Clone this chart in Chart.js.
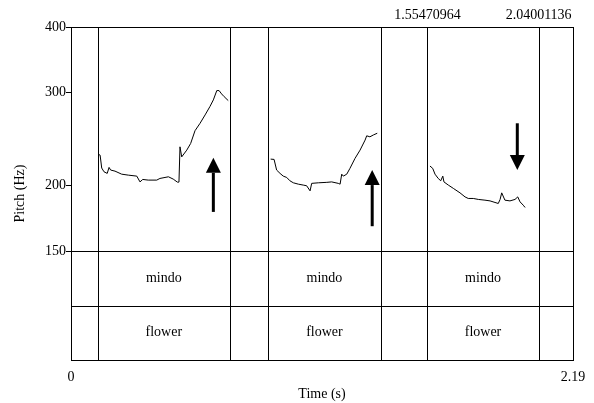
<!DOCTYPE html>
<html>
<head>
<meta charset="utf-8">
<script src="https://cdn.jsdelivr.net/npm/chart.js@4.4.1/dist/chart.umd.min.js"></script>
<style>
  body { margin: 0; background: #fff; }
  canvas { display: block; }
</style>
</head>
<body>
<canvas id="pitchChart" width="594" height="403"></canvas>
<script>
// pitch contours (time in s, pitch in Hz)
const times1 = [0.119, 0.127, 0.134, 0.144, 0.158, 0.166, 0.173, 0.192, 0.221, 0.250, 0.287, 0.301, 0.313, 0.337, 0.374, 0.388, 0.425, 0.446, 0.464, 0.471, 0.4755, 0.483, 0.505, 0.522, 0.541, 0.563, 0.585, 0.606, 0.621, 0.636, 0.646, 0.657, 0.668, 0.686];
const pitch1 = [229.2, 228.2, 215.7, 212.2, 210.7, 216.3, 213.8, 212.8, 210.0, 209.1, 208.2, 203.0, 205.2, 204.6, 204.6, 206.1, 207.6, 205.5, 202.8, 202.8, 236.7, 226.5, 233.3, 240.2, 254.0, 262.4, 272.2, 282.3, 290.7, 302.8, 302.8, 298.4, 294.9, 289.8];

const times2 = [0.871, 0.886, 0.897, 0.912, 0.926, 0.941, 0.955, 0.970, 0.992, 1.013, 1.028, 1.043, 1.050, 1.079, 1.116, 1.137, 1.166, 1.174, 1.181, 1.188, 1.203, 1.217, 1.239, 1.261, 1.283, 1.290, 1.304, 1.319, 1.336];
const pitch2 = [224.3, 224.0, 213.8, 210.7, 208.2, 207.0, 204.0, 202.2, 201.0, 200.2, 199.6, 195.2, 201.7, 202.2, 202.6, 203.0, 201.7, 201.0, 210.0, 208.2, 210.0, 215.4, 225.0, 233.3, 243.8, 248.4, 247.3, 249.3, 251.2];

const times3 = [1.566, 1.578, 1.588, 1.602, 1.613, 1.622, 1.627, 1.646, 1.668, 1.697, 1.719, 1.733, 1.755, 1.777, 1.806, 1.828, 1.864, 1.872, 1.879, 1.893, 1.915, 1.937, 1.949, 1.959, 1.973, 1.981];
const pitch3 = [217.6, 215.4, 210.0, 206.1, 204.0, 208.2, 203.0, 200.2, 197.3, 193.5, 190.1, 188.8, 188.8, 188.0, 187.4, 186.8, 184.7, 188.0, 193.5, 187.4, 186.8, 188.0, 190.1, 186.0, 183.3, 181.5];

// text grid intervals
const intervalStarts = [0.116, 0.860, 1.55470964];
const intervalEnds = [0.694, 1.351, 2.04001136];
const words = ["mindo", "mindo", "mindo"];
const glosses = ["flower", "flower", "flower"];

// marked times shown above the plot
const markedTimes = [1.55470964, 2.04001136];

// arrows (time, from Hz, to Hz)
const arrowTimes = [0.621, 1.314, 1.947];
const arrowFrom = [178.0, 167.2, 262.4];
const arrowTo = [225.6, 213.8, 213.8];

const pitchTicks = [150, 200, 300, 400];
const timeTicks = [0, 2.19];

const serif = "Liberation Serif";

function toPoints(times, values) {
  return times.map((t, i) => ({ x: t, y: values[i] }));
}

function crisp(v) {
  return Math.round(v) + 0.5;
}

const praatPlugin = {
  id: "praatGarnish",
  afterDatasetsDraw(chart) {
    const { ctx, chartArea, scales } = chart;
    const { left, right, top, bottom } = chartArea;
    const xs = scales.x;
    const tier = scales.tier;

    ctx.save();
    ctx.strokeStyle = "#000";
    ctx.lineWidth = 1;

    // frame and tier separators
    ctx.strokeRect(crisp(left), crisp(top), Math.round(right - left), Math.round(bottom - top));
    [scales.y.getPixelForValue(150), tier.getPixelForValue(1)].forEach((py) => {
      ctx.beginPath();
      ctx.moveTo(left, crisp(py));
      ctx.lineTo(right, crisp(py));
      ctx.stroke();
    });

    // interval boundaries through the whole picture
    intervalStarts.concat(intervalEnds).forEach((t) => {
      const px = crisp(xs.getPixelForValue(t));
      ctx.beginPath();
      ctx.moveTo(px, top);
      ctx.lineTo(px, bottom);
      ctx.stroke();
    });

    // tier texts
    ctx.fillStyle = "#000";
    ctx.font = `14px "${serif}"`;
    ctx.textAlign = "center";
    ctx.textBaseline = "middle";
    [words, glosses].forEach((labels, row) => {
      const cy = (tier.getPixelForValue(row) + tier.getPixelForValue(row + 1)) / 2;
      labels.forEach((label, i) => {
        const cx = (xs.getPixelForValue(intervalStarts[i]) + xs.getPixelForValue(intervalEnds[i])) / 2;
        ctx.fillText(label, cx, cy);
      });
    });

    // marked times on top
    markedTimes.forEach((t) => {
      ctx.fillText(String(t), xs.getPixelForValue(t), top - 12);
    });

    // axis title for pitch, centred on the whole box
    ctx.save();
    ctx.translate(20, (top + bottom) / 2);
    ctx.rotate(-Math.PI / 2);
    ctx.fillText("Pitch (Hz)", 0, 0);
    ctx.restore();

    // arrows
    arrowTimes.forEach((t, i) => {
      const px = xs.getPixelForValue(t);
      const y0 = scales.y.getPixelForValue(arrowFrom[i]);
      const y1 = scales.y.getPixelForValue(arrowTo[i]);
      const dir = y1 < y0 ? -1 : 1;
      const headLen = 15;
      ctx.lineWidth = 3;
      ctx.beginPath();
      ctx.moveTo(px, y0);
      ctx.lineTo(px, y1 - dir * headLen);
      ctx.stroke();
      ctx.beginPath();
      ctx.moveTo(px, y1);
      ctx.lineTo(px - 7.5, y1 - dir * headLen);
      ctx.lineTo(px + 7.5, y1 - dir * headLen);
      ctx.closePath();
      ctx.fill();
    });

    ctx.restore();
  }
};

function contourDataset(times, values) {
  return {
    data: toPoints(times, values),
    xAxisID: "x",
    yAxisID: "y",
    borderColor: "#000",
    borderWidth: 1,
    pointRadius: 0,
    tension: 0,
    fill: false
  };
}

new Chart(document.getElementById("pitchChart"), {
  type: "line",
  data: {
    datasets: [
      contourDataset(times1, pitch1),
      contourDataset(times2, pitch2),
      contourDataset(times3, pitch3)
    ]
  },
  options: {
    responsive: false,
    animation: false,
    devicePixelRatio: 1,
    layout: { padding: { top: 27, right: 21, left: 0, bottom: 0 } },
    plugins: {
      legend: { display: false },
      tooltip: { enabled: false }
    },
    scales: {
      x: {
        type: "linear",
        min: 0,
        max: 2.19,
        afterBuildTicks: (scale) => {
          scale.ticks = timeTicks.map((v) => ({ value: v }));
        },
        afterFit: (scale) => {
          scale.height = 43;
        },
        grid: { display: false },
        border: { display: false },
        ticks: {
          color: "#000",
          font: { family: serif, size: 14 },
          padding: 1,
          maxRotation: 0,
          callback: (v) => (v === 0 ? "0" : v.toFixed(2))
        },
        title: {
          display: true,
          text: "Time (s)",
          color: "#000",
          font: { family: serif, size: 14 },
          padding: { top: 2, bottom: 0 }
        }
      },
      tier: {
        type: "linear",
        position: "left",
        stack: "praat",
        stackWeight: 109,
        min: 0,
        max: 2,
        reverse: true,
        afterBuildTicks: (scale) => {
          scale.ticks = [];
        },
        afterFit: (scale) => {
          scale.width = 71;
        },
        grid: { display: false },
        border: { display: false },
        ticks: { display: false }
      },
      y: {
        type: "logarithmic",
        position: "left",
        stack: "praat",
        stackWeight: 224,
        min: 150,
        max: 400,
        afterBuildTicks: (scale) => {
          scale.ticks = pitchTicks.map((v) => ({ value: v }));
        },
        afterFit: (scale) => {
          scale.width = 71;
        },
        grid: {
          drawOnChartArea: false,
          drawTicks: true,
          tickLength: 5,
          color: "#000"
        },
        border: { display: false },
        ticks: {
          color: "#000",
          font: { family: serif, size: 14 },
          padding: 0,
          callback: (v) => String(v)
        }
      }
    }
  },
  plugins: [praatPlugin]
});
</script>
</body>
</html>
